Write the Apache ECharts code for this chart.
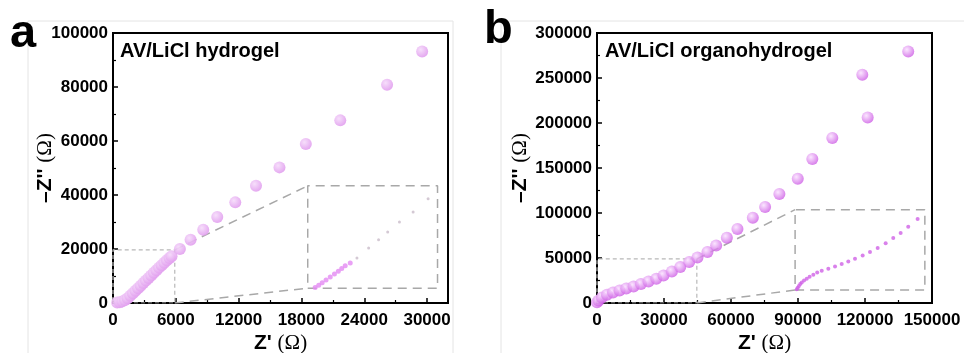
<!DOCTYPE html>
<html>
<head>
<meta charset="utf-8">
<script src="https://cdn.jsdelivr.net/npm/echarts@6/dist/echarts.min.js"></script>
<style>
  html, body { margin: 0; padding: 0; background: #fff; }
  #chart { width: 964px; height: 353px; }
</style>
</head>
<body>
<div id="chart"></div>
<script>
// panel a: AV/LiCl hydrogel
const pointsA = [
  [400, 150], [650, 300], [900, 600], [1150, 1100], [1400, 1800], [1650, 2700],
  [1900, 3600], [2150, 4500], [2400, 5500], [2650, 6400], [2900, 7400], [3150, 8300],
  [3400, 9300], [3650, 10200], [3900, 11200], [4150, 12100], [4400, 13100],
  [4650, 14000], [4900, 14900], [5150, 15800], [5400, 16700],
  [5590, 17270], [6390, 20000], [7410, 23440], [8620, 27150], [9960, 31850],
  [11680, 37270], [13660, 43440], [15900, 50230], [18420, 58890], [21710, 67640],
  [26180, 80850], [29530, 93190]
];
const insetDenseA = [
  [19310, 5780], [19650, 6600], [19980, 7520], [20350, 8550], [20750, 9630],
  [21150, 10700], [21520, 11780], [21850, 12800], [22180, 13810], [22660, 14810]
];
const insetSparseA = [
  [23300, 16670], [24420, 20370], [25370, 23440], [26240, 26300],
  [27360, 30000], [28670, 33700], [30100, 38630]
];
const zoomBoxA = [[0, 0], [5900, 0], [5900, 19700], [0, 19700], [0, 0]];
const insetBoxA = [[18600, 5500], [31000, 5500], [31000, 43400], [18600, 43400], [18600, 5500]];
const linkTopA = [[5900, 19700], [18600, 43400]];
const linkBottomA = [[5900, 0], [18600, 5500]];

// panel b: AV/LiCl organohydrogel
const pointsB = [
  [0, 700], [700, 2900], [2200, 6200], [4470, 9220], [7160, 11780], [10110, 14000],
  [13100, 16220], [16380, 18440], [19680, 21110], [23080, 24000], [26560, 27000],
  [29790, 30670], [33540, 35110], [37290, 40000], [41280, 45550], [44990, 50670],
  [49460, 56670], [53350, 64000], [58140, 72560], [62880, 82220], [69770, 94780],
  [75270, 106670], [81660, 121110], [89890, 138110], [96420, 160000],
  [105370, 183330], [121200, 206220], [118790, 253670], [139360, 279560]
];
const insetB = [
  [89450, 15200], [89900, 17000], [90400, 19000], [91000, 21000], [91680, 22800],
  [92700, 25000], [93920, 27000], [95200, 29300], [96870, 31440], [98600, 33800],
  [100630, 35890], [103580, 38110], [106580, 40670], [109570, 43330],
  [112520, 46220], [115520, 49220], [118960, 52890], [122230, 56670],
  [125670, 61110], [129250, 66440], [132650, 72110], [135960, 77670],
  [139360, 84780], [143560, 93220]
];
const zoomBoxB = [[0, 0], [44700, 0], [44700, 49000], [0, 49000], [0, 0]];
const insetBoxB = [[88700, 14500], [146800, 14500], [146800, 103700], [88700, 103700], [88700, 14500]];
const linkTopB = [[44700, 49000], [88700, 103700]];
const linkBottomB = [[44700, 0], [88700, 14500]];

const ticksA = { xMax: 32000, xStep: 6000, yMax: 100000, yStep: 20000 };
const ticksB = { xMax: 150000, xStep: 30000, yMax: 300000, yStep: 50000 };

const sans = '"Liberation Sans", Arial, sans-serif';
const serif = '"Liberation Serif", "DejaVu Serif", serif';

const nameRich = {
  b: { fontFamily: sans, fontWeight: 'bold', fontSize: 21, color: '#000' },
  s: { fontFamily: serif, fontSize: 21, color: '#000' }
};

function valueAxis(gridIndex, max, step, extra, labelMargin) {
  return Object.assign({
    type: 'value',
    gridIndex,
    min: 0,
    max,
    interval: step,
    nameMoveOverlap: false,
    axisLine: { show: true, lineStyle: { color: '#000', width: 2 } },
    axisTick: { show: true, inside: true, length: 5, lineStyle: { color: '#000', width: 1.5 } },
    minorTick: { show: true, splitNumber: 2, length: 3, lineStyle: { color: '#000', width: 1.2 } },
    splitLine: { show: false },
    axisLabel: {
      color: '#000',
      fontFamily: sans,
      fontWeight: 'bold',
      fontSize: 17,
      margin: labelMargin,
      formatter: (v) => (v % step === 0 ? String(v) : '')
    }
  }, extra);
}

function ball(light, dark) {
  return {
    type: 'radial', x: 0.38, y: 0.35, r: 0.65,
    colorStops: [{ offset: 0, color: light }, { offset: 1, color: dark }]
  };
}

function dashed(name, xi, data, color, width, dash) {
  return {
    name, type: 'line', xAxisIndex: xi, yAxisIndex: xi, data,
    symbol: 'none', silent: true, z: 1,
    lineStyle: { color, width, type: dash }
  };
}

const chart = echarts.init(document.getElementById('chart'), null, { renderer: 'canvas' });

chart.setOption({
  animation: false,
  graphic: [
    { type: 'rect', shape: { x: 28, y: 21, width: 425, height: 340 }, style: { fill: 'none', stroke: '#e4e4e4', lineWidth: 1 }, silent: true },
    { type: 'rect', shape: { x: 501, y: 21, width: 470, height: 340 }, style: { fill: 'none', stroke: '#e4e4e4', lineWidth: 1 }, silent: true },
    { type: 'text', left: 10, top: 11, style: { text: 'a', font: 'bold 47px ' + sans, fill: '#000' } },
    { type: 'text', left: 484, top: 7, style: { text: 'b', font: 'bold 47px ' + sans, fill: '#000' } },
    { type: 'text', left: 120, top: 41, style: { text: 'AV/LiCl hydrogel', font: 'bold 20px ' + sans, fill: '#000' } },
    { type: 'text', left: 605, top: 41, style: { text: 'AV/LiCl organohydrogel', font: 'bold 20px ' + sans, fill: '#000' } }
  ],
  grid: [
    { left: 113, top: 33, width: 335, height: 270, outerBoundsMode: 'none', show: true, borderColor: '#000', borderWidth: 2, backgroundColor: 'transparent' },
    { left: 597, top: 33, width: 335, height: 270, outerBoundsMode: 'none', show: true, borderColor: '#000', borderWidth: 2, backgroundColor: 'transparent' }
  ],
  xAxis: [
    valueAxis(0, ticksA.xMax, ticksA.xStep, {
      name: "{b|Z' }{s|(Ω)}", nameLocation: 'middle', nameGap: 30, nameTextStyle: { rich: nameRich }
    }, 9),
    valueAxis(1, ticksB.xMax, ticksB.xStep, {
      name: "{b|Z' }{s|(Ω)}", nameLocation: 'middle', nameGap: 30, nameTextStyle: { rich: nameRich }
    }, 9)
  ],
  yAxis: [
    valueAxis(0, ticksA.yMax, ticksA.yStep, {
      name: "{b|–Z'' }{s|(Ω)}", nameLocation: 'middle', nameGap: 57, nameRotate: 90, nameTextStyle: { rich: nameRich }
    }, 5),
    valueAxis(1, ticksB.yMax, ticksB.yStep, {
      name: "{b|–Z'' }{s|(Ω)}", nameLocation: 'middle', nameGap: 66, nameRotate: 90, nameTextStyle: { rich: nameRich }
    }, 5)
  ],
  series: [
    dashed('zoomA', 0, zoomBoxA, '#b8b8b8', 1.2, [4, 3]),
    dashed('insetA', 0, insetBoxA, '#a8a8a8', 1.5, [9, 6]),
    dashed('linkTopA', 0, linkTopA, '#a8a8a8', 1.5, [9, 6]),
    dashed('linkBottomA', 0, linkBottomA, '#a8a8a8', 1.5, [9, 6]),
    dashed('zoomB', 1, zoomBoxB, '#b8b8b8', 1.2, [4, 3]),
    dashed('insetB', 1, insetBoxB, '#a8a8a8', 1.5, [9, 6]),
    dashed('linkTopB', 1, linkTopB, '#a8a8a8', 1.5, [9, 6]),
    dashed('linkBottomB', 1, linkBottomB, '#a8a8a8', 1.5, [9, 6]),
    {
      name: 'hydrogel', type: 'scatter', xAxisIndex: 0, yAxisIndex: 0, data: pointsA,
      symbolSize: 12, z: 3,
      itemStyle: { color: ball('#f6dcfb', '#e2a0ef'), opacity: 0.9 }
    },
    {
      name: 'hydrogel inset', type: 'scatter', xAxisIndex: 0, yAxisIndex: 0, data: insetDenseA,
      symbolSize: 5, z: 3, itemStyle: { color: '#e38af2' }
    },
    {
      name: 'hydrogel inset tail', type: 'scatter', xAxisIndex: 0, yAxisIndex: 0, data: insetSparseA,
      symbolSize: 3, z: 3, itemStyle: { color: '#c9bcc9' }
    },
    {
      name: 'organohydrogel', type: 'scatter', xAxisIndex: 1, yAxisIndex: 1, data: pointsB,
      symbolSize: 12, z: 3,
      itemStyle: { color: ball('#fae0ff', '#cf62e6') }
    },
    {
      name: 'organohydrogel inset', type: 'scatter', xAxisIndex: 1, yAxisIndex: 1, data: insetB,
      symbolSize: 4, z: 3, itemStyle: { color: '#cf62e6' }
    }
  ]
});
</script>
</body>
</html>
